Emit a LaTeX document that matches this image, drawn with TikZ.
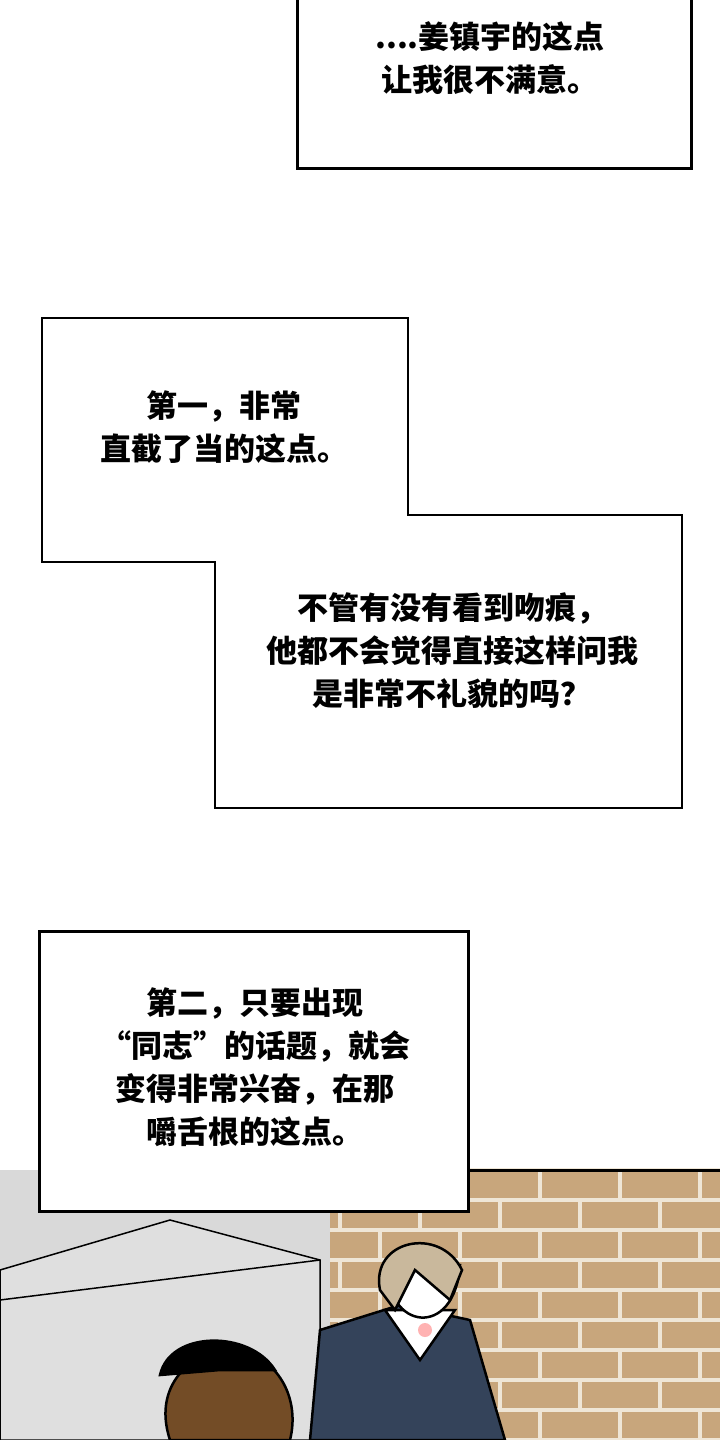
\documentclass[tikz,border=0pt]{standalone}
\usepackage{fontspec}
\newfontfamily\cjk{Noto Sans CJK SC}
\usetikzlibrary{positioning}
\definecolor{brick}{HTML}{C8A67C}
\definecolor{mortar}{HTML}{EFE6D6}
\definecolor{stone}{HTML}{D9D9D9}
\definecolor{vest}{HTML}{34435A}
\definecolor{hairc}{HTML}{C9B89C}
\begin{document}
\begin{tikzpicture}[x=1pt,y=-1pt,line width=2.5pt,
    caption/.style={align=center,font=\cjk\bfseries\fontsize{31}{43}\selectfont,inner sep=0pt}]
    \tikzstyle{box}=[draw=black,fill=white]
    \useasboundingbox (0,0) rectangle (720,1440);
    \fill[white] (0,0) rectangle (720,1440);

    % scene at the bottom
    \fill[brick] (300,1170) rectangle (720,1440);
    \foreach \r in {0,...,9} {
      \draw[mortar,line width=4pt] (300,1170+\r*30) -- (720,1170+\r*30);
      \pgfmathsetmacro{\off}{mod(\r,2)*40}
      \foreach \c in {0,...,5}
        \draw[mortar,line width=4pt] (300+\off+\c*80,1170+\r*30) -- (300+\off+\c*80,1200+\r*30);
    }
    \fill[stone] (0,1170) rectangle (330,1440);
    \draw[line width=1.5pt,fill=stone!85] (0,1270) -- (170,1220) -- (320,1260) -- (320,1440) -- (0,1440) -- cycle;
    \draw[line width=1.5pt] (0,1300) -- (320,1260);
    \draw[line width=3pt] (467,1170) -- (720,1170);
    % light-haired man
    \draw[fill=vest] (310,1440) -- (320,1330) -- (400,1305) -- (470,1320) -- (505,1440) -- cycle;
    \draw[fill=white] (385,1310) -- (420,1360) -- (455,1310) -- cycle;
    \draw[fill=white] (388,1265) .. controls (385,1330) and (455,1340) .. (460,1265) -- cycle;
    \draw[fill=hairc] (380,1290) .. controls (370,1240) and (440,1225) .. (462,1270) -- (450,1300) -- (415,1270) -- (395,1310) -- cycle;
    \fill[red!30] (425,1330) circle (7);
    % dark-haired man
    \draw[fill=brown!60!black] (170,1440) .. controls (150,1380) and (200,1345) .. (240,1350) .. controls (280,1360) and (300,1400) .. (290,1440) -- cycle;
    \draw[fill=black] (160,1375) .. controls (170,1330) and (250,1330) .. (275,1370) -- (220,1370) -- cycle;

    % caption boxes
    \node[box,minimum width=394,minimum height=172,anchor=north west] (topbox) at (296,-5) {};
    \node[caption] (toptext) at (490,58) {....姜镇宇的这点\\让我很不满意。};

    \draw[box] (42,318) -- (408,318) -- (408,515) -- (682,515) -- (682,808)
        -- (215,808) -- (215,562) -- (42,562) -- cycle;
    \node[caption] (firsttext) at (224,427) {第一，非常\\直截了当的这点。};
    \node[caption] (kisstext) at (452,651) {不管有没有看到吻痕，\\他都不会觉得直接这样问我\\是非常不礼貌的吗？};

    \node[box,minimum width=429,minimum height=280,anchor=north west] (secondbox) at (38,930) {};
    \node[caption] (secondtext) at (255,1067) {第二，只要出现\\“同志”的话题，就会\\变得非常兴奋，在那\\嚼舌根的这点。};
\end{tikzpicture}
\end{document}
